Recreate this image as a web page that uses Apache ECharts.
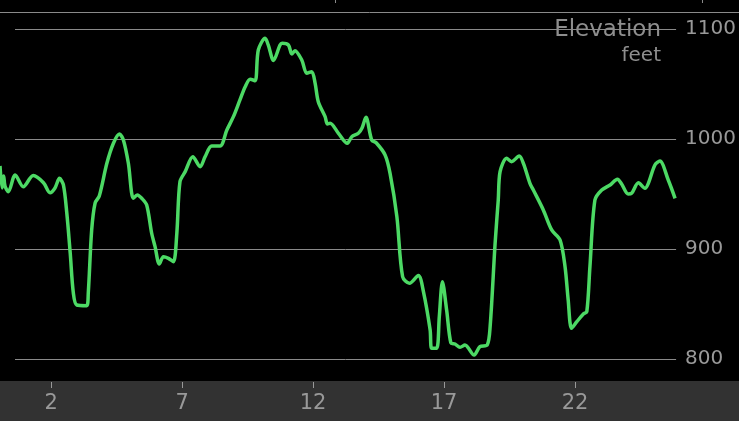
<!DOCTYPE html>
<html>
<head>
<meta charset="utf-8">
<script src="https://cdn.jsdelivr.net/npm/echarts@6/dist/echarts.min.js"></script>
<style>
html,body{margin:0;padding:0;background:#000;}
#chart{width:739px;height:421px;}
</style>
</head>
<body>
<div id="chart"></div>
<script>
// distance (x) and elevation in feet
const distance = [0.05,0.13,0.19,0.24,0.37,0.63,0.94,1.32,1.71,1.96,2.15,2.32,2.47,2.60,2.73,2.85,2.98,3.36,3.42,3.55,3.68,3.84,4.13,4.38,4.61,4.76,4.95,5.14,5.29,5.46,5.65,5.84,5.97,6.13,6.29,6.48,6.67,6.80,6.92,7.12,7.41,7.69,7.88,8.13,8.45,8.71,8.96,9.21,9.41,9.60,9.79,9.91,10.17,10.29,10.49,10.74,10.82,11.06,11.19,11.31,11.57,11.76,11.95,12.08,12.20,12.46,12.55,12.65,12.97,13.31,13.48,13.73,13.87,14.02,14.24,14.41,14.75,14.94,15.20,15.42,15.68,16.02,16.21,16.47,16.53,16.72,16.82,16.94,17.10,17.26,17.42,17.61,17.80,18.15,18.37,18.65,18.76,18.95,19.07,19.14,19.39,19.58,19.87,20.03,20.28,20.41,20.79,21.11,21.43,21.62,21.74,21.87,22.07,22.32,22.45,22.57,22.76,23.02,23.34,23.62,23.78,24.03,24.16,24.42,24.67,24.80,25.05,25.24,25.56,25.82];
const elevation = [975.5,955.5,966.4,957.3,952.1,967.3,956.6,966.8,960.3,951.2,955.5,964.3,958.2,932.7,896.4,860.0,849.1,848.5,860.0,917.3,941.8,948.2,977.9,996.1,1004.5,999.1,977.9,946.1,949.1,946.1,940.0,914.3,902.1,886.4,893.0,891.5,888.5,914.3,961.2,970.3,983.9,974.8,983.9,993.6,993.6,1008.2,1020.3,1035.5,1047.5,1054.3,1053.0,1080.9,1091.5,1085.5,1071.4,1085.5,1087.0,1085.5,1077.3,1080.3,1071.8,1059.7,1061.2,1050.6,1033.9,1020.3,1013.6,1014.3,1005.2,996.1,1002.1,1005.2,1010.0,1019.7,999.1,996.6,985.5,968.8,929.4,874.8,868.8,875.9,861.8,826.4,809.7,809.7,838.5,870.3,844.5,814.8,813.6,810.6,812.7,803.6,811.2,812.7,829.4,905.2,944.5,970.3,982.5,979.4,984.5,977.9,959.7,953.6,935.5,917.3,908.2,883.9,853.6,827.9,833.9,840.9,843.0,883.9,944.5,953.6,958.2,963.4,959.1,950.0,950.6,960.3,955.2,959.7,976.4,980.0,962.7,946.1];
const xTickValues = [2, 7, 12, 17, 22];
const yTicks = [800, 900, 1000, 1100];
const titleText = 'Elevation';
const unitText = 'feet';

const data = distance.map((d, i) => [d, elevation[i]]);
const gray = '#999999';
const font = 'DejaVu Sans';

const chart = echarts.init(document.getElementById('chart'));
chart.setOption({
  backgroundColor: '#000',
  animation: false,
  grid: [
    {left: 0, right: 60, top: 29, bottom: 62},
    {left: 15, right: 61, top: 29, bottom: 62}
  ],
  xAxis: [
    {
      type: 'value', gridIndex: 0, min: 0.05, max: 25.97,
      offset: 23,
      axisLine: {show: false},
      splitLine: {show: false},
      axisTick: {show: true, length: 6, lineStyle: {color: gray, width: 1}, customValues: xTickValues},
      axisLabel: {color: gray, fontSize: 21, fontFamily: font, margin: 11, customValues: xTickValues}
    },
    {
      type: 'value', gridIndex: 1, min: 0, max: 1, show: false
    }
  ],
  yAxis: [
    {
      type: 'value', gridIndex: 0, min: yTicks[0], max: yTicks[yTicks.length - 1], interval: 100,
      show: false
    },
    {
      type: 'value', gridIndex: 1, position: 'right', min: yTicks[0], max: yTicks[yTicks.length - 1], interval: 100,
      axisLine: {show: false}, axisTick: {show: false},
      splitLine: {show: true, lineStyle: {color: '#8a8a8a', width: 1}},
      axisLabel: {color: gray, fontSize: 20, fontFamily: font, margin: 9, formatter: v => String(v)}
    }
  ],
  graphic: [
    {type: 'rect', z: -10, shape: {x: 0, y: 381, width: 739, height: 40}, style: {fill: '#323232'}},
    {type: 'line', shape: {x1: 0, y1: 12.5, x2: 739, y2: 12.5}, style: {stroke: '#8a8a8a', lineWidth: 1}},
    {type: 'line', shape: {x1: 335.5, y1: 0, x2: 335.5, y2: 3}, style: {stroke: '#8a8a8a', lineWidth: 1}},
    {type: 'line', shape: {x1: 702.5, y1: 0, x2: 702.5, y2: 3}, style: {stroke: '#8a8a8a', lineWidth: 1}},
    {type: 'text', z: 10, x: 661, y: 30, style: {text: titleText, fill: '#8e8e8e', font: '23px "DejaVu Sans"', textAlign: 'right', textVerticalAlign: 'middle'}},
    {type: 'text', z: 10, x: 661, y: 56, style: {text: unitText, fill: '#8e8e8e', font: '20px "DejaVu Sans"', textAlign: 'right', textVerticalAlign: 'middle'}}
  ],
  series: [{
    type: 'line',
    xAxisIndex: 0, yAxisIndex: 0,
    data: data,
    showSymbol: false,
    smooth: 0.3,
    clip: false,
    lineStyle: {color: '#4cd964', width: 3.5},
    z: 5
  }]
});
</script>
</body>
</html>
